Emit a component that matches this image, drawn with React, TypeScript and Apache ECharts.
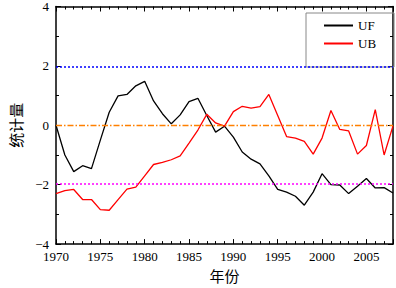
import React, { useEffect, useRef } from "react";
import * as echarts from "echarts";

const years: number[] = [];
for (let y = 1970; y <= 2008; y++) years.push(y);

const ufValues = [
  0.0, -1.0, -1.56, -1.36, -1.46, -0.5, 0.44, 0.99, 1.04, 1.33,
  1.48, 0.82, 0.39, 0.05, 0.35, 0.8, 0.91, 0.33, -0.23, -0.03,
  -0.4, -0.9, -1.14, -1.3, -1.7, -2.16, -2.25, -2.39, -2.69, -2.25,
  -1.63, -2.0, -2.01, -2.3, -2.05, -1.79, -2.11, -2.1, -2.28,
];

const ubValues = [
  -2.3, -2.2, -2.16, -2.5, -2.5, -2.84, -2.86, -2.5, -2.15, -2.08,
  -1.7, -1.32, -1.25, -1.16, -1.03, -0.6, -0.16, 0.37, 0.08, -0.03,
  0.46, 0.64, 0.58, 0.63, 1.04, 0.33, -0.38, -0.43, -0.54, -0.97,
  -0.43, 0.5, -0.14, -0.19, -0.97, -0.68, 0.53, -1.0, -0.02,
];

const seriesNames = ["UF", "UB"];
const thresholds = [1.96, 0, -1.96];
const xName = "年份";
const yName = "统计量";

const serif = "'Liberation Serif', 'Times New Roman', serif";
const cjk = "'Noto Sans CJK SC', sans-serif";

export default function App() {
  const ref = useRef<HTMLDivElement>(null);
  useEffect(() => {
    const chart = echarts.init(ref.current!, null, { renderer: "svg" });
    const tickCommon = {
      axisLine: { show: true, onZero: false, lineStyle: { color: "#000", width: 1.5 } },
      splitLine: { show: false },
      axisTick: { inside: true, length: 5, lineStyle: { color: "#000" } },
    };
    chart.setOption({
      animation: false,
      backgroundColor: "#fff",
      grid: { left: 52, right: 3, top: 6, bottom: 37 },
      legend: {
        data: seriesNames,
        orient: "vertical",
        left: 306,
        top: 13,
        itemWidth: 29,
        itemHeight: 10,
        itemGap: 5,
        padding: [6, 18, 17, 17],
        borderColor: "#888",
        borderWidth: 1,
        itemStyle: { opacity: 0 },
        textStyle: { fontFamily: serif, fontSize: 13, color: "#000" },
      },
      xAxis: [
        {
          type: "value",
          min: 1970,
          max: 2008,
          interval: 5,
          name: xName,
          nameLocation: "middle",
          nameGap: 22,
          nameTextStyle: { fontFamily: cjk, fontSize: 15, color: "#000" },
          ...tickCommon,
          minorTick: { show: true, splitNumber: 5, length: 3, lineStyle: { color: "#000" } },
          axisLabel: {
            showMaxLabel: false,
            fontFamily: serif,
            fontSize: 13,
            color: "#000",
            margin: 6,
            formatter: (v: number) => String(v),
          },
        },
        {
          type: "value",
          position: "top",
          min: 1970,
          max: 2008,
          interval: 5,
          ...tickCommon,
          minorTick: { show: true, splitNumber: 5, length: 3, lineStyle: { color: "#000" } },
          axisLabel: { show: false },
        },
      ],
      yAxis: [
        {
          type: "value",
          min: -4,
          max: 4,
          interval: 2,
          name: yName,
          nameLocation: "middle",
          nameGap: 33,
          nameTextStyle: { fontFamily: cjk, fontSize: 15, color: "#000" },
          ...tickCommon,
          minorTick: { show: true, splitNumber: 2, length: 3, lineStyle: { color: "#000" } },
          axisLabel: {
            fontFamily: serif,
            fontSize: 13,
            color: "#000",
            margin: 7,
            formatter: (v: number) => (v < 0 ? "\u2212" + Math.abs(v) : String(v)),
          },
        },
        {
          type: "value",
          position: "right",
          min: -4,
          max: 4,
          interval: 2,
          ...tickCommon,
          minorTick: { show: true, splitNumber: 2, length: 3, lineStyle: { color: "#000" } },
          axisLabel: { show: false },
        },
      ],
      series: [
        {
          name: seriesNames[0],
          type: "line",
          symbol: "none",
          data: years.map((y, i) => [y, ufValues[i]]),
          lineStyle: { color: "#000", width: 1.3 },
          itemStyle: { color: "#000" },
          z: 3,
          markLine: {
            silent: true,
            symbol: "none",
            label: { show: false },
            data: [
              { yAxis: thresholds[0], lineStyle: { color: "#0000ff", type: [2, 2], width: 1.5 } },
              { yAxis: thresholds[1], lineStyle: { color: "#ff8000", type: [6, 2, 1.5, 2], width: 1.4 } },
              { yAxis: thresholds[2], lineStyle: { color: "#ff00ff", type: [2, 2], width: 1.5 } },
            ],
          },
        },
        {
          name: seriesNames[1],
          type: "line",
          symbol: "none",
          data: years.map((y, i) => [y, ubValues[i]]),
          lineStyle: { color: "#ff0000", width: 1.3 },
          itemStyle: { color: "#ff0000" },
          z: 3,
        },
      ],
    });
    return () => chart.dispose();
  }, []);
  return (
    <div
      ref={ref}
      style={{ position: "fixed", left: 0, top: 0, width: 396, height: 288, background: "#fff" }}
    />
  );
}
